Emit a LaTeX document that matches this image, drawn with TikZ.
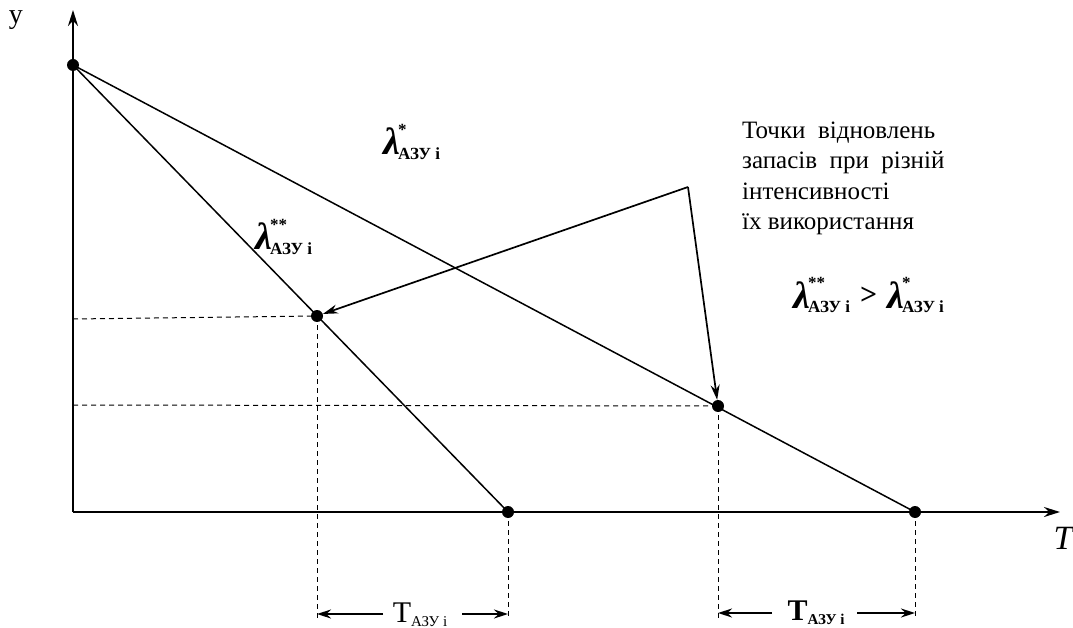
\documentclass[tikz,border=0pt]{standalone}
\usepackage{fontspec}
\setmainfont{Liberation Serif}
\usetikzlibrary{arrows.meta}
\tikzset{
  ax/.style={line width=2.2pt,-{Stealth[length=16pt,width=10pt]}},
  ln/.style={line width=1.5pt},
  dsh/.style={line width=1pt,dash pattern=on 5pt off 4pt},
  pt/.style={circle,fill=black,inner sep=0pt,minimum size=12pt},
  dim/.style={line width=1.6pt,-{Stealth[length=14pt,width=9pt]}},
  lbl/.style={font=\fontsize{25}{30.5}\selectfont,inner sep=0pt},
  lam/.style={font=\fontsize{38}{38}\selectfont\itshape\bfseries,inner sep=0pt},
  pnt/.style={line width=1.7pt,-{Stealth[length=15pt,width=9pt]}}
}
\newcommand{\sub}[1]{{\fontsize{17}{17}\selectfont\upshape\bfseries #1}}
\newcommand{\lamb}[2]{λ\kern-0.05em\rlap{\raisebox{0.52em}{\fontsize{17}{17}\selectfont\upshape #1}}\raisebox{-0.12em}{\sub{#2}}}
\begin{document}
\begin{tikzpicture}[x=1pt,y=-1pt]
\useasboundingbox (0,0) rectangle (1073,628);
\coordinate (O) at (73,512);
\coordinate (ytop) at (73,10);
\coordinate (xend) at (1060,512);
\coordinate (A) at (73,65);
\coordinate (B) at (508,512);
\coordinate (C) at (915,512);
\coordinate (P) at (317,316);
\coordinate (Q) at (718,406);
\coordinate (Ox1) at (73,319);
\coordinate (Ox2) at (73,405);
\coordinate (Pb) at (317,618);
\coordinate (Bb) at (508,618);
\coordinate (Qb) at (718,618);
\coordinate (Cb) at (915,618);
\coordinate (src) at (688,187);

\draw[ax] (O) -- (ytop);
\draw[ax] (O) -- (xend);
\draw[ln] (A) -- (B);
\draw[ln] (A) -- (C);
\draw[dsh] (Ox1) -- (P);
\draw[dsh] (Ox2) -- (Q);
\draw[dsh] (P) -- (Pb);
\draw[dsh] (B) -- (Bb);
\draw[dsh] (Q) -- (Qb);
\draw[dsh] (C) -- (Cb);

\node[pt] (pA) at (A) {};
\node[pt] (pB) at (B) {};
\node[pt] (pC) at (C) {};
\node[pt] (pP) at (P) {};
\node[pt] (pQ) at (Q) {};

\node[lbl,anchor=center,font=\fontsize{28}{28}\selectfont] (yl) at (16,20) {y};
\node[lbl,anchor=center,font=\fontsize{34}{34}\selectfont\itshape] (Tl) at (1063,538) {T};

\node[lbl,anchor=base west,align=left] (txt) at (742,230)
  {Точки\ \ відновлень\\запасів\ \ при\ \ різній\\інтенсивності\\їх використання};

\draw[pnt] (src) -- (pP);
\draw[pnt] (src) -- (pQ);

\node[lam,anchor=base west] (l1) at (383,155) {\lamb{*}{АЗУ i}};
\node[lam,anchor=base west] (l2) at (255,250) {\lamb{**}{АЗУ i}};
\node[lam,anchor=base west] (l3) at (793,308) {\lamb{**}{АЗУ i}\hspace{10pt}\raisebox{0.1em}{\fontsize{30}{30}\selectfont\upshape\bfseries >}\hspace{10pt}\lamb{*}{АЗУ i}};

\node[inner sep=0pt,font=\fontsize{30}{30}\selectfont,anchor=base] (d1) at (420,622) {T\raisebox{-0.15em}{\fontsize{15}{15}\selectfont АЗУ i}};
\node[inner sep=0pt,font=\fontsize{30}{30}\selectfont\bfseries,anchor=base] (d2) at (816,620) {T\raisebox{-0.15em}{\fontsize{15}{15}\selectfont\bfseries АЗУ i}};
\coordinate (d1l) at (383,614);
\coordinate (d1r) at (462,614);
\coordinate (d2l) at (772,613);
\coordinate (d2r) at (857,613);
\draw[dim] (d1l) -- (Pb |- d1l);
\draw[dim] (d1r) -- (Bb |- d1r);
\draw[dim] (d2l) -- (Qb |- d2l);
\draw[dim] (d2r) -- (Cb |- d2r);
\end{tikzpicture}
\end{document}
